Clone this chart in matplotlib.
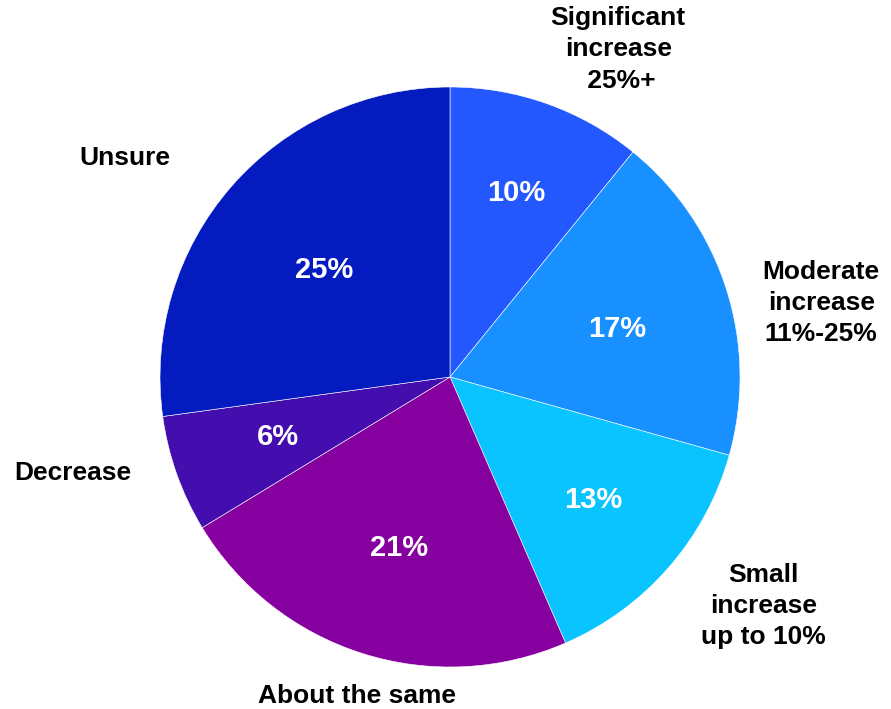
import matplotlib
matplotlib.use("Agg")
import matplotlib.pyplot as plt

# ---- data ----
categories = [
    "Significant\nincrease\n 25%+",
    "Moderate\nincrease\n11%-25%",
    "Small\nincrease\nup to 10%",
    "About the same",
    "Decrease",
    "Unsure",
]
shares = [10, 17, 13, 21, 6, 25]
colors = ["#2358FF", "#1890FF", "#0AC4FF", "#85009E", "#440EAF", "#041CBF"]

# label centres (pie radius = 1)
label_pos = [
    (0.58, 1.13),
    (1.28, 0.255),
    (1.08, -0.79),
    (-0.32, -1.10),
    (-1.30, -0.33),
    (-1.12, 0.755),
]
pct_pos = [
    (0.228, 0.634),
    (0.576, 0.166),
    (0.493, -0.424),
    (-0.176, -0.590),
    (-0.593, -0.207),
    (-0.434, 0.369),
]

plt.rcParams["font.family"] = ["Liberation Sans", "DejaVu Sans"]

fig = plt.figure(figsize=(8.91, 7.09), dpi=100)
ax = fig.add_axes([0, 0, 1, 1])

wedges, texts, autotexts = ax.pie(
    shares,
    labels=categories,
    colors=colors,
    startangle=90,
    counterclock=False,
    autopct=lambda p: f"{p * sum(shares) / 100:.0f}%",
    pctdistance=0.62,
    wedgeprops=dict(edgecolor="white", linewidth=0.4),
    textprops=dict(fontweight="bold"),
)

for t, pos in zip(texts, label_pos):
    t.set_position(pos)
    t.set_ha("center")
    t.set_va("center")
    t.set_fontsize(19)
    t.set_color("black")
    t.set_multialignment("center")
    t.set_linespacing(1.38)

for t, pos in zip(autotexts, pct_pos):
    t.set_position(pos)
    t.set_color("white")
    t.set_fontsize(21)

ax.set_aspect("auto")
ax.set_xlim(-450 / 290, 441 / 290)
ax.set_ylim(-332 / 290, 377 / 290)
ax.axis("off")

fig.savefig("out.png", dpi=100, facecolor="white")
